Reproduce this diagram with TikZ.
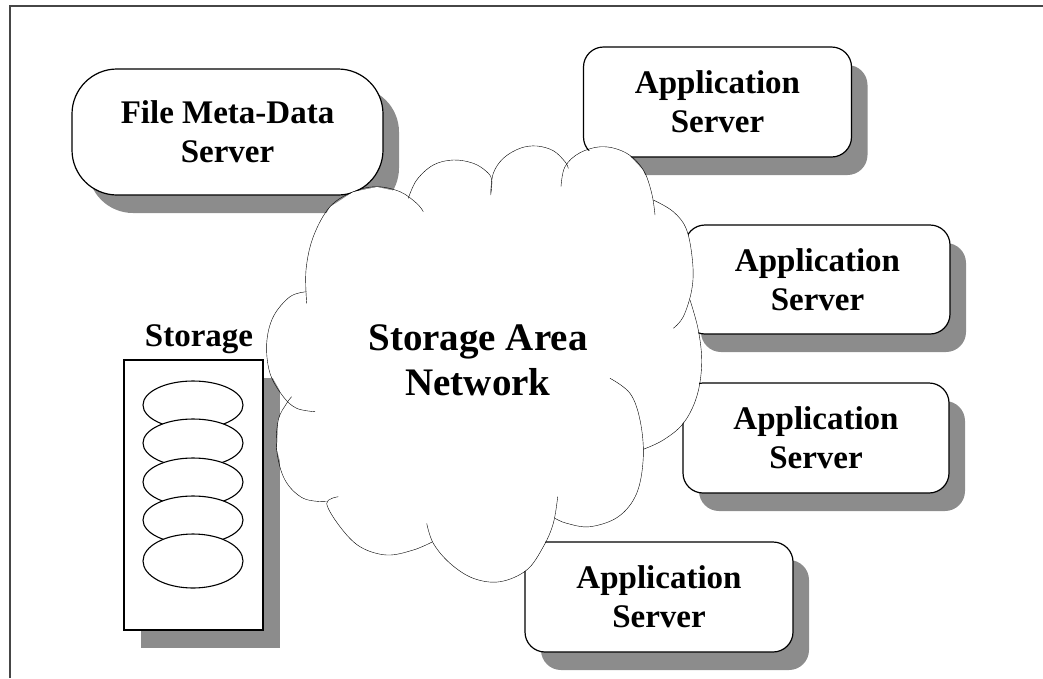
\documentclass[tikz,border=0pt]{standalone}
\usepackage{fontspec}
\setmainfont{Liberation Serif}
\definecolor{shadowgray}{RGB}{140,140,140}
\definecolor{framegray}{RGB}{70,70,70}
\tikzset{
  boxtext/.style={font=\bfseries\fontsize{33}{39}\selectfont, align=center, inner sep=0pt},
  srvbox/.style={boxtext, draw=black, line width=1.2pt, fill=white, rounded corners=20pt,
     minimum width=268pt, minimum height=110pt,
     preaction={fill=shadowgray, draw=none, transform canvas={shift={(16pt,-18pt)}}}},
  metabox/.style={srvbox, rounded corners=45pt, minimum width=311pt, minimum height=126pt},
  storebox/.style={draw=black, line width=1.2pt, fill=white, rounded corners=0pt,
     minimum width=139pt, minimum height=270pt, inner sep=0pt,
     preaction={fill=shadowgray, draw=none, transform canvas={shift={(17pt,-18pt)}}}},
  disk/.style={draw=black, line width=1.1pt, fill=white},
  cloudline/.style={draw=black, line width=1.1pt, smooth, tension=0.6},
  framestyle/.style={draw=framegray, line width=2pt}
}
\begin{document}
\begin{tikzpicture}[x=1pt,y=-1pt]
\useasboundingbox (0,0) rectangle (1043,678);
% frame
\draw[framestyle] (9.5,678) -- (9.5,6) -- (1043,6);

% boxes
\node[metabox] (meta) at (227.5,132) {File Meta-Data\\Server};
\node[srvbox] (app1) at (717.5,102) {Application\\Server};
\node[srvbox, minimum width=265pt, minimum height=109pt] (app2) at (817.5,279.5) {Application\\Server};
\node[srvbox, minimum width=266pt] (app3) at (816,438) {Application\\Server};
\node[srvbox] (app4) at (659,597) {Application\\Server};

% storage
\node[boxtext, anchor=base] (storlabel) at (199,346) {Storage};
\node[storebox] (store) at (193.5,495) {};
\draw[disk] (193,405) ellipse [x radius=50, y radius=24];
\draw[disk] (193,443) ellipse [x radius=50, y radius=24];
\draw[disk] (193,482) ellipse [x radius=50, y radius=24];
\draw[disk] (193,520) ellipse [x radius=50, y radius=24];
\draw[disk] (193,561) ellipse [x radius=50, y radius=27];

% cloud fill
\fill[white] (306,270) -- (313,237) -- (330,207) -- (353,192) -- (377,187) -- (400,192) -- (412,200)
 -- (417,180) -- (433,165) -- (453,160) -- (473,163) -- (487,172) -- (491,180)
 -- (493,173) -- (503,158) -- (520,148) -- (537,146) -- (553,151) -- (565,162)
 -- (580,153) -- (603,147) -- (627,153) -- (643,170) -- (652,193) -- (653,205)
 -- (673,212) -- (687,230) -- (693,263) -- (692,290)
 -- (698,330) -- (702,363) -- (697,397) -- (683,423) -- (663,440) -- (643,449)
 -- (643,457) -- (637,493) -- (618,517) -- (590,527) -- (567,523) -- (555,520)
 -- (543,547) -- (527,570) -- (500,582) -- (473,578) -- (450,563) -- (433,543)
 -- (413,550) -- (387,555) -- (360,547) -- (340,527) -- (327,503)
 -- (303,498) -- (285,480) -- (277,450) -- (278,420) -- (287,403)
 -- (270,373) -- (267,343) -- (273,317) -- (290,297) -- (307,292) -- cycle;
% cloud outline bumps
\draw plot[cloudline] coordinates {(306.7,303.3) (306,270) (313.3,236.7) (330,206.7) (353.3,191.7) (376.7,186.7) (400,191.7) (416.7,203.3) (423.3,211.7)};
\draw plot[cloudline] coordinates {(408.3,198.3) (416.7,180) (433.3,165) (453.3,160) (473.3,163.3) (486.7,171.7) (491.7,180) (490.7,195)};
\draw plot[cloudline] coordinates {(490.7,193.3) (493.3,173.3) (503.3,158.3) (520,148.3) (536.7,146) (553.3,150.7) (565,161.7) (568.3,168.3)};
\draw plot[cloudline] coordinates {(561,186.7) (565,166.7) (580,152.7) (603.3,146.7) (626.7,153.3) (643.3,170) (651.7,193.3) (655,215)};
\draw plot[cloudline] coordinates {(653.3,200) (673.3,211.7) (686.7,230) (692.7,263.3) (691.7,290) (683.3,316.7) (673.3,328.3)};
\draw plot[cloudline] coordinates {(690,300) (698.3,330) (701.7,363.3) (696.7,396.7) (683.3,423.3) (663.3,440) (643.3,449.3)};
\draw plot[cloudline] coordinates {(610,378.3) (630,393.3) (640,420) (643.3,456.7) (636.7,493.3) (618.3,516.7) (590,526.7) (566.7,523.3) (555,518.3)};
\draw plot[cloudline] coordinates {(557.7,496.7) (553.3,523.3) (543.3,546.7) (526.7,570) (500,581.7) (473.3,578.3) (450,563.3) (433.3,543.3) (426.7,523.3)};
\draw plot[cloudline] coordinates {(432.7,541.7) (413.3,550) (386.7,555) (360,546.7) (340,526.7) (326.7,503.3) (338.3,496.7)};
\draw plot[cloudline] coordinates {(326.7,501.7) (303.3,498.3) (285,480) (276.7,450) (278.3,420) (286.7,403.3) (291.7,396.7)};
\draw plot[cloudline] coordinates {(306.7,291.7) (290,296.7) (273.3,316.7) (266.7,343.3) (270,373.3) (283.3,396.7) (296.7,408.3) (315,411.7)};
\node[boxtext, font=\bfseries\fontsize{39}{45}\selectfont] (san) at (478,360) {Storage Area\\Network};
\end{tikzpicture}
\end{document}
